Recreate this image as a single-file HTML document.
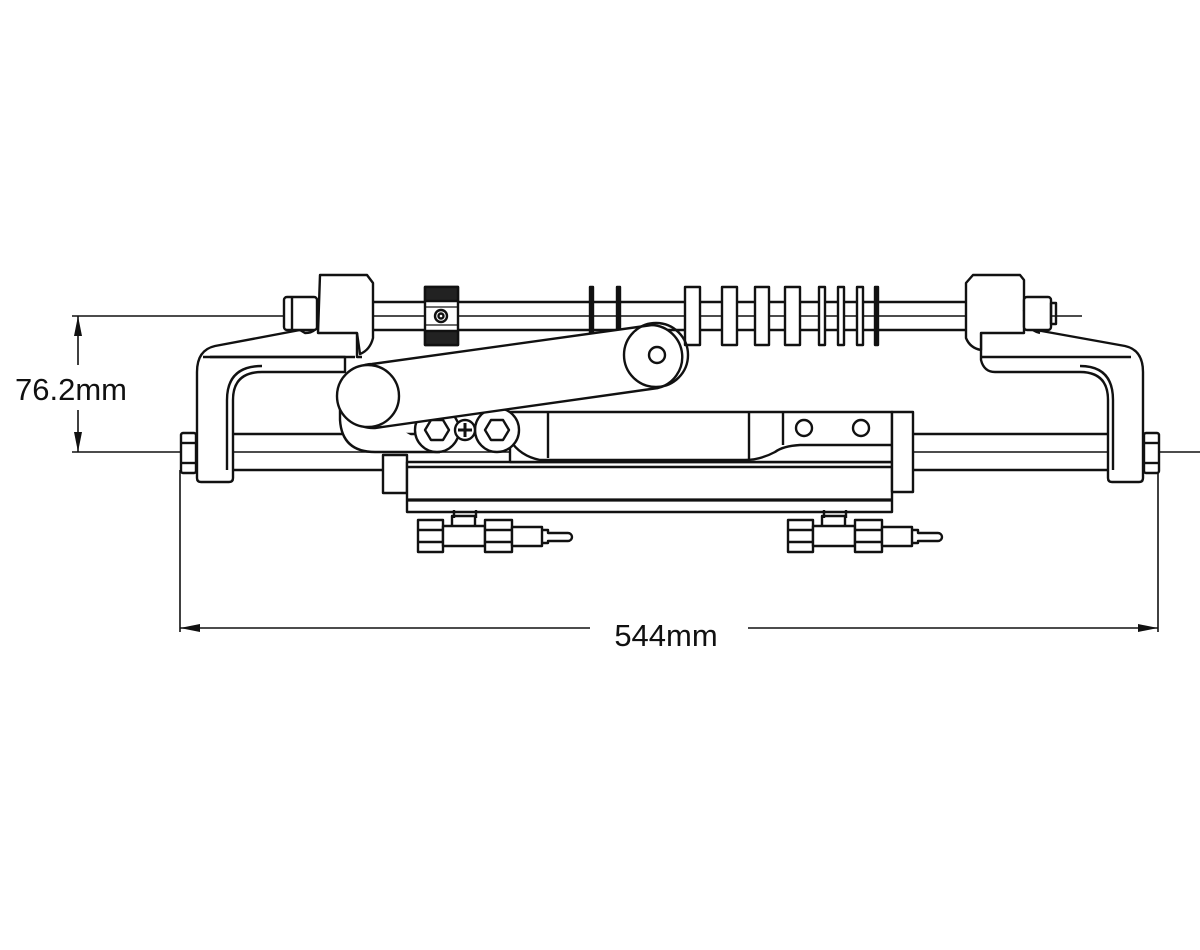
<!DOCTYPE html>
<html><head><meta charset="utf-8"><style>
html,body{margin:0;padding:0;background:#fff;}
svg{display:block;}
text{font-family:"Liberation Sans",Arial,sans-serif;fill:#111;}
</style></head><body>
<svg width="1200" height="950" viewBox="0 0 1200 950" xmlns="http://www.w3.org/2000/svg">
<g fill="none" stroke="#111" stroke-width="2.4" stroke-linejoin="round">
<line x1="72" y1="316" x2="1082" y2="316" stroke-width="1.6"/>
<line x1="72" y1="452" x2="1200" y2="452" stroke-width="1.6"/>
<line x1="373" y1="302" x2="966" y2="302"/>
<line x1="373" y1="330" x2="966" y2="330"/>
<!-- knurled wheel -->
<rect x="425" y="287" width="33" height="58" fill="#fff"/>
<rect x="425" y="287" width="33" height="14" fill="#222"/>
<rect x="425" y="331" width="33" height="14" fill="#222"/>
<g stroke-width="1.2">
<line x1="425" y1="307" x2="458" y2="307"/><line x1="425" y1="325" x2="458" y2="325"/>
</g>
<circle cx="441" cy="316" r="6"/><circle cx="441" cy="316" r="2.5"/>
<!-- discs -->
<rect x="590" y="287" width="3" height="58" fill="#111"/>
<rect x="617" y="287" width="3" height="58" fill="#111"/>
<rect x="685" y="287" width="15" height="58" fill="#fff"/>
<rect x="722" y="287" width="15" height="58" fill="#fff"/>
<rect x="755" y="287" width="14" height="58" fill="#fff"/>
<rect x="785" y="287" width="15" height="58" fill="#fff"/>
<rect x="819" y="287" width="6" height="58" fill="#fff"/>
<rect x="838" y="287" width="6" height="58" fill="#fff"/>
<rect x="857" y="287" width="6" height="58" fill="#fff"/>
<rect x="875" y="287" width="3" height="58" fill="#111"/>
<!-- lower rod -->
<line x1="196" y1="434" x2="1143" y2="434"/>
<line x1="196" y1="470" x2="1143" y2="470"/>
<!-- left bracket -->
<path d="M300 330 L215 346 Q197 350 197 372 L197 478 Q197 482 201 482 L229 482 Q233 482 233 478 L233 400 Q233 372 262 372 L345 372 L345 357 L210 357" fill="#fff"/>
<path d="M203 357 L355 357" />
<path d="M227 470 L227 400 Q227 366 262 366"/>
<path d="M320 275 L367 275 L373 283 L373 338 Q370 350 360 354 L357 333 L318 333 Z" fill="#fff"/>
<path d="M318 300 L318 320 Q318 333 305 333 L300 330" />
<rect x="284" y="297" width="33" height="33" rx="3" fill="#fff"/>
<line x1="292" y1="297" x2="292" y2="330"/>
<path d="M357 333 L357 357 L362 357"/>
<rect x="181" y="433" width="15" height="40" rx="2" fill="#fff"/>
<line x1="181" y1="443" x2="196" y2="443"/><line x1="181" y1="463" x2="196" y2="463"/>
<!-- right bracket -->
<path d="M1036 330 L1125 346 Q1143 350 1143 372 L1143 478 Q1143 482 1139 482 L1112 482 Q1108 482 1108 478 L1108 400 Q1108 372 1080 372 L995 372 Q984 372 981 360 L981 333" fill="#fff"/>
<path d="M980 357 L1131 357"/>
<path d="M1113 470 L1113 400 Q1113 366 1080 366"/>
<path d="M973 275 L1020 275 L1024 280 L1024 333 L981 333 L981 350 Q970 348 966 338 L966 283 Z" fill="#fff"/>
<path d="M1024 310 Q1026 330 1040 333"/>
<rect x="1024" y="297" width="27" height="33" rx="3" fill="#fff"/>
<rect x="1051" y="303" width="5" height="21"/>
<rect x="1144" y="433" width="15" height="40" rx="2" fill="#fff"/>
<line x1="1144" y1="443" x2="1159" y2="443"/><line x1="1144" y1="463" x2="1159" y2="463"/>
<!-- cylinder body -->
<rect x="383" y="455" width="24" height="38" fill="#fff"/>
<rect x="407" y="462" width="485" height="50" fill="#fff"/>
<line x1="407" y1="500" x2="892" y2="500" stroke-width="3.2"/>
<rect x="510" y="412" width="382" height="50" fill="#fff"/>
<line x1="548" y1="412" x2="548" y2="458"/>
<line x1="749" y1="412" x2="749" y2="462"/>
<line x1="783" y1="412" x2="783" y2="445"/>
<path d="M892 445 L800 445 Q783 446 775 452 Q760 460 745 460 L540 460 Q520 456 510 440"/>
<line x1="407" y1="467" x2="892" y2="467"/>
<rect x="892" y="412" width="21" height="80" fill="#fff"/>
<circle cx="804" cy="428" r="8"/>
<circle cx="861" cy="428" r="8"/>
<!-- arm lower lobe -->
<path d="M340 395 L340 420 Q342 452 375 452 L440 452" fill="#fff"/>
<!-- bolts -->
<circle cx="437" cy="430" r="22" fill="#fff"/>
<circle cx="497" cy="430" r="22" fill="#fff"/>
<polygon points="425,430 431,420 443,420 449,430 443,440 431,440" />
<polygon points="485,430 491,420 503,420 509,430 503,440 491,440" />
<circle cx="465" cy="430" r="10" fill="#fff"/>
<line x1="465" y1="423" x2="465" y2="437" stroke-width="3"/>
<line x1="458" y1="430" x2="472" y2="430" stroke-width="3"/>
<!-- arm -->
<path d="M372 364 L652 325 A32 32 0 0 1 658 388 L375 428 A32 32 0 0 1 372 364 Z" fill="#fff"/>
<circle cx="368" cy="396" r="31" fill="#fff"/>
<circle cx="656" cy="355" r="32" fill="none"/>
<circle cx="657" cy="355" r="8"/>
<!-- fittings -->
<g id="fit">
<rect x="418" y="520" width="25" height="32" fill="#fff"/>
<line x1="418" y1="530" x2="443" y2="530"/><line x1="418" y1="542" x2="443" y2="542"/>
<rect x="443" y="526" width="42" height="20" fill="#fff"/>
<path d="M452 526 L452 516 L475 516 L475 526"/>
<line x1="454" y1="510" x2="454" y2="518"/><line x1="476" y1="510" x2="476" y2="518"/>
<rect x="485" y="520" width="27" height="32" fill="#fff"/>
<line x1="485" y1="530" x2="512" y2="530"/><line x1="485" y1="542" x2="512" y2="542"/>
<rect x="512" y="527" width="30" height="19" fill="#fff"/>
<path d="M542 530 L548 530 L548 533 L568 533 A4 4 0 0 1 568 541 L548 541 L548 543 L542 543"/>
</g>
<use href="#fit" transform="translate(370,0)"/>
<!-- dimensions -->
<line x1="78" y1="316" x2="78" y2="365" stroke-width="1.6"/>
<line x1="78" y1="410" x2="78" y2="452" stroke-width="1.6"/>
<line x1="180" y1="470" x2="180" y2="632" stroke-width="1.6"/>
<line x1="1158" y1="473" x2="1158" y2="632" stroke-width="1.6"/>
<line x1="180" y1="628" x2="590" y2="628" stroke-width="1.6"/>
<line x1="748" y1="628" x2="1158" y2="628" stroke-width="1.6"/>
</g>
<g fill="#111">
<polygon points="78,316 74,336 82,336"/>
<polygon points="78,452 74,432 82,432"/>
<polygon points="180,628 200,624 200,632"/>
<polygon points="1158,628 1138,624 1138,632"/>
</g>
<text x="15" y="400" font-size="31">76.2mm</text>
<text x="666" y="646" font-size="31" text-anchor="middle">544mm</text>
</svg>
</body></html>
